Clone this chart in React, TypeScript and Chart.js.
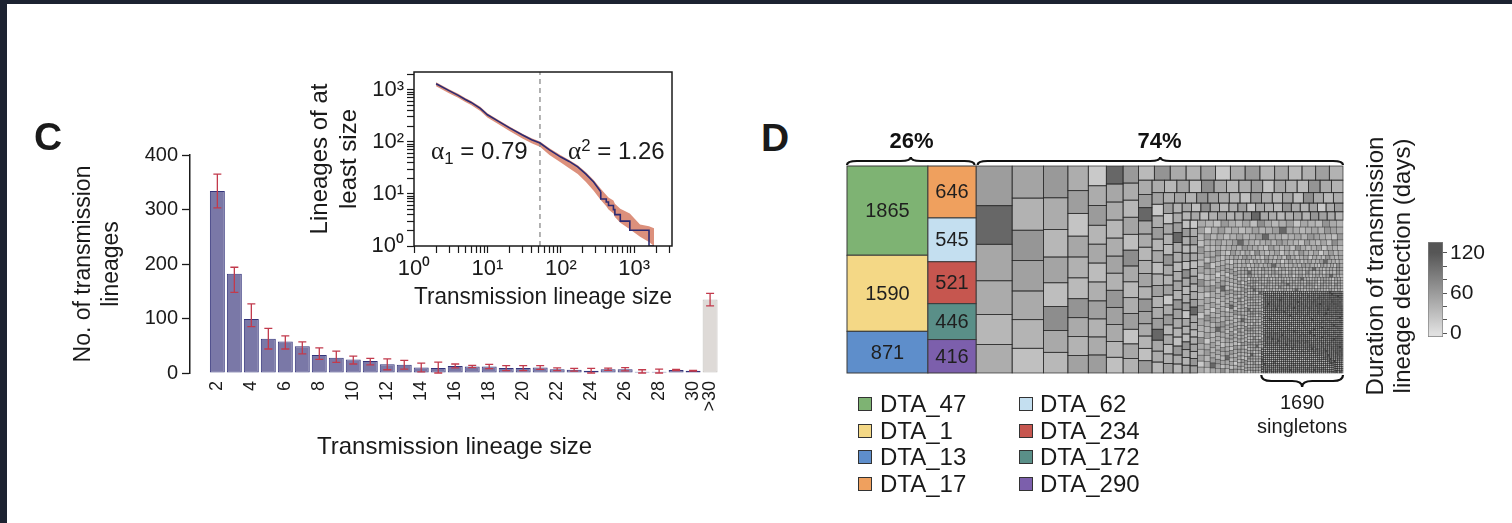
import React, { useEffect, useRef } from "react";
import { Chart, registerables } from "chart.js";

Chart.register(...registerables);

const FONT = "'Liberation Sans', Arial, Helvetica, sans-serif";
const INK = "#1a1a1a";
Chart.defaults.font.family = FONT;
Chart.defaults.color = INK;

// ---------------- Panel C : distribution of lineage sizes ----------------
const barSizes = [2, 3, 4, 5, 6, 7, 8, 9, 10, 11, 12, 13, 14, 15, 16, 17, 18, 19, 20, 21, 22, 23, 24, 25, 26, 27, 28, 29, 30];
const barMeans = [334, 182, 99, 63, 58, 49, 33, 28, 25, 22, 16, 15, 10, 9, 13, 12, 12, 9, 9, 10, 7, 6, 4, 7, 7, 2.5, 2.5, 5.5, 4.3];
const barLow = [303, 148, 85, 44, 44, 35, 25, 19.5, 16.5, 15, 6, 7, 2, 0, 9.5, 10, 8, 4.5, 4.5, 6.5, 4.5, 3.4, 0, 5, 4, 0, 0, 4.5, 3.6];
const barHigh = [365, 194, 127, 82, 68, 57, 46, 40, 31, 27, 26, 23, 18, 20, 16.5, 14, 16, 13.5, 13.5, 13.5, 9.5, 8.6, 8.6, 9, 10, 6, 7, 6.5, 5];
const overLabel = ">30";
const overPosition = 31;
const overMean = 135;
const overLow = 123;
const overHigh = 146;
const barTickSizes = [2, 4, 6, 8, 10, 12, 14, 16, 18, 20, 22, 24, 26, 28, 30];
const barYTicks = [0, 100, 200, 300, 400];

// ---------------- Inset : complementary cumulative distribution ----------------
const ccdfSizes = [2, 3, 4, 5, 6, 8, 10, 14, 20, 30, 40, 52, 70, 100, 130, 170, 220, 280, 350];
const ccdfCounts = [1300, 960, 780, 650, 570, 440, 330, 250, 185, 135, 110, 95, 70, 51, 42, 33, 24, 17, 11];
const tailSizes = [350, 416, 446, 521, 545, 646, 871, 1590, 1865];
const tailCounts = [11, 8, 7, 6, 5, 4, 3, 2, 1];
const bandSizes = [2, 3, 4, 5, 6, 8, 10, 14, 20, 30, 40, 52, 70, 100, 130, 170, 220, 280, 350, 416, 446, 521, 545, 646, 871, 1200, 1590, 1865];
const bandHigh = [1390, 1025, 835, 695, 610, 470, 352, 266, 197, 143, 117, 101, 75, 55, 45, 35.5, 26, 18.5, 12.5, 9.5, 8.5, 7.5, 6.5, 5.2, 4.2, 2.6, 2.4, 2.2];
const bandLow = [1170, 860, 700, 580, 510, 392, 292, 220, 162, 116, 94, 80, 56, 40, 31, 24, 17, 11.5, 7.6, 5.8, 5, 4.2, 3.6, 2.8, 2.1, 1.5, 1.2, 1];
const breakpointSize = 52;
const insetXTicks = [1, 2, 3, 4, 5, 6, 7, 8, 9, 10, 20, 30, 40, 50, 60, 70, 80, 90, 100, 200, 300, 400, 500, 600, 700, 800, 900, 1000, 2000, 3000];
const insetYTicks = [1, 2, 3, 4, 5, 6, 7, 8, 9, 10, 20, 30, 40, 50, 60, 70, 80, 90, 100, 200, 300, 400, 500, 600, 700, 800, 900, 1000, 2000];
const insetXMin = 1;
const insetXMax = 3270;
const insetYMin = 1;
const insetYMax = 2190;
const superDigits = ["\u2070", "\u00b9", "\u00b2", "\u00b3"];

// ---------------- Panel D : treemap of lineages ----------------
const topNames = ["DTA_47", "DTA_1", "DTA_13", "DTA_17", "DTA_62", "DTA_234", "DTA_172", "DTA_290"];
const topSizes = [1865, 1590, 871, 646, 545, 521, 446, 416];
const topColors = ["#7eb373", "#f4d886", "#5e8ecb", "#efa05e", "#c4dff0", "#c6564f", "#5a8f88", "#7c5fac"];
const topFirstColumn = 3;
const largeGraySizes = [370, 360, 340, 315, 280, 265, 260, 246, 232, 200, 173, 162, 150, 138, 130, 120, 110, 100, 92, 88, 84, 78, 74, 68, 63, 58, 54, 50, 46, 43, 40, 37, 34, 32];
const largeGrayCounts = [1, 1, 1, 1, 1, 1, 2, 2, 2, 3, 1, 1, 2, 1, 2, 2, 3, 3, 4, 4, 4, 5, 5, 6, 6, 6, 6, 6, 7, 7, 8, 8, 8, 8];
const singletonCount = 1690;
const durationPattern = [58, 105, 50, 46, 36, 44, 52, 40, 64, 55, 47, 38, 28, 62, 45, 36, 52, 30, 72, 48, 35, 44, 57, 24, 50, 41, 33, 66, 47, 39, 54, 20, 45, 60, 37, 49, 31, 43, 56, 40, 46];
const colorbarRange = [-5.5, 136];
const colorbarTicks = [0, 20, 40, 60, 80, 100, 120];
const colorbarLabelled = [0, 60, 120];
const GRAY_LIGHT = 224;
const GRAY_DARK = 86;

const BAR_FILL = "#7a78a7";
const BAR_EDGE = "#34347b";
const OVER_FILL = "#dedad7";
const OVER_EDGE = "#c2beba";
const ERR = "#c23a4c";
const BAND = "rgba(216,132,110,0.9)";
const LINE = "#2b2a72";

const sum = (a: number[]) => a.reduce((s, v) => s + v, 0);

function buildGrayValues(): number[] {
  const vals: number[] = [];
  largeGraySizes.forEach((s, i) => {
    for (let k = 0; k < largeGrayCounts[i]; k++) vals.push(s);
  });
  for (let i = barSizes.length - 1; i >= 0; i--) {
    const n = Math.round(barMeans[i]);
    for (let k = 0; k < n; k++) vals.push(barSizes[i]);
  }
  for (let k = 0; k < singletonCount; k++) vals.push(1);
  return vals;
}
const grayValues = buildGrayValues();

type Cell = { x: number; y: number; w: number; h: number; v: number; idx: number };

function worst(maxA: number, minA: number, s: number, side: number) {
  const s2 = s * s;
  const w2 = side * side;
  return Math.max((w2 * maxA) / s2, s2 / (w2 * minA));
}

function squarify(values: number[], x0: number, y0: number, w0: number, h0: number): Cell[] {
  const total = sum(values);
  const k = (w0 * h0) / total;
  const areas = values.map((v) => v * k);
  const out: Cell[] = [];
  let x = x0, y = y0, w = w0, h = h0;
  let i = 0;
  while (i < areas.length) {
    const side = Math.min(w, h);
    let s = areas[i];
    let best = worst(areas[i], areas[i], s, side);
    let j = i + 1;
    while (j < areas.length) {
      const ns = s + areas[j];
      const nw = worst(areas[i], areas[j], ns, side);
      if (nw > best) break;
      best = nw;
      s = ns;
      j++;
    }
    if (w >= h) {
      const cw = s / h;
      let cy = y;
      for (let m = i; m < j; m++) {
        const ch = areas[m] / cw;
        out.push({ x, y: cy, w: cw, h: ch, v: values[m], idx: m });
        cy += ch;
      }
      x += cw;
      w -= cw;
    } else {
      const rh = s / w;
      let cx = x;
      for (let m = i; m < j; m++) {
        const cw = areas[m] / rh;
        out.push({ x: cx, y, w: cw, h: rh, v: values[m], idx: m });
        cx += cw;
      }
      y += rh;
      h -= rh;
    }
    i = j;
  }
  return out;
}

function durationColor(d: number) {
  const lo = colorbarLabelled[0];
  const hi = colorbarLabelled[colorbarLabelled.length - 1];
  const t = Math.max(0, Math.min(1, (d - lo) / (hi - lo)));
  const v = Math.round(GRAY_LIGHT + (GRAY_DARK - GRAY_LIGHT) * t);
  return `rgb(${v},${v},${v})`;
}

function drawBrace(ctx: CanvasRenderingContext2D, x1: number, x2: number, y0: number, dir: number, depth: number) {
  const xm = (x1 + x2) / 2;
  const y1 = y0 + dir * depth;
  const y2 = y0 + dir * depth * 2;
  const r = Math.min(10, (x2 - x1) / 4);
  ctx.beginPath();
  ctx.moveTo(x1, y0);
  ctx.quadraticCurveTo(x1, y1, x1 + r, y1);
  ctx.lineTo(xm - r, y1);
  ctx.quadraticCurveTo(xm, y1, xm, y2);
  ctx.quadraticCurveTo(xm, y1, xm + r, y1);
  ctx.lineTo(x2 - r, y1);
  ctx.quadraticCurveTo(x2, y1, x2, y0);
  ctx.stroke();
}

const errorBarPlugin = {
  id: "errorBars",
  afterDatasetsDraw(chart: any) {
    const { ctx, scales } = chart;
    const xs = [...barSizes, overPosition];
    const lows = [...barLow, overLow];
    const highs = [...barHigh, overHigh];
    ctx.save();
    ctx.strokeStyle = ERR;
    ctx.lineWidth = 1.3;
    xs.forEach((xv, i) => {
      const px = scales.x.getPixelForValue(xv);
      const lo = scales.y.getPixelForValue(lows[i]);
      const hi = scales.y.getPixelForValue(highs[i]);
      ctx.beginPath();
      ctx.moveTo(px, lo);
      ctx.lineTo(px, hi);
      ctx.moveTo(px - 4, lo);
      ctx.lineTo(px + 4, lo);
      ctx.moveTo(px - 4, hi);
      ctx.lineTo(px + 4, hi);
      ctx.stroke();
    });
    ctx.restore();
  },
};

const frameBoxPlugin = {
  id: "frameBox",
  afterDatasetsDraw(chart: any) {
    const { ctx, chartArea: a } = chart;
    ctx.save();
    ctx.strokeStyle = INK;
    ctx.lineWidth = 1.5;
    ctx.strokeRect(a.left, a.top, a.right - a.left, a.bottom - a.top);
    ctx.restore();
  },
};

const treemapPlugin = {
  id: "treemapCells",
  afterDraw(chart: any) {
    const { ctx, chartArea: a, scales } = chart;
    const W = (a.right - a.left) / (a.bottom - a.top);
    const H = 1;
    const coloredSum = sum(topSizes);
    const total = coloredSum + sum(grayValues);
    const coloredW = (W * coloredSum) / total;
    const px = (v: number) => scales.x.getPixelForValue(v / W);
    const py = (v: number) => scales.y.getPixelForValue(v / H);

    ctx.save();
    // grey lineages
    const gray = squarify(grayValues, coloredW, 0, W - coloredW, H);
    gray.forEach((c) => {
      ctx.fillStyle = durationColor(durationPattern[c.idx % durationPattern.length]);
      ctx.fillRect(px(c.x), py(c.y), px(c.x + c.w) - px(c.x), py(c.y + c.h) - py(c.y));
    });
    gray.forEach((c) => {
      const wpx = px(c.x + c.w) - px(c.x);
      const hpx = py(c.y + c.h) - py(c.y);
      const small = Math.min(wpx, hpx);
      if (c.v === 1) {
        ctx.strokeStyle = "rgba(35,35,35,0.75)";
        ctx.lineWidth = 0.55;
      } else if (small < 7) {
        ctx.strokeStyle = "rgba(40,40,40,0.55)";
        ctx.lineWidth = 0.5;
      } else {
        ctx.strokeStyle = "rgba(40,40,40,0.85)";
        ctx.lineWidth = 0.8;
      }
      ctx.strokeRect(px(c.x), py(c.y), wpx, hpx);
    });

    // coloured (largest) lineages
    const columns = [topSizes.slice(0, topFirstColumn), topSizes.slice(topFirstColumn)];
    let cx = 0;
    let offset = 0;
    columns.forEach((col) => {
      const colSum = sum(col);
      const cw = (coloredW * colSum) / coloredSum;
      let cy = 0;
      col.forEach((v, k) => {
        const ch = (H * v) / colSum;
        const x1 = px(cx), x2 = px(cx + cw), y1 = py(cy), y2 = py(cy + ch);
        ctx.fillStyle = topColors[offset + k];
        ctx.fillRect(x1, y1, x2 - x1, y2 - y1);
        ctx.strokeStyle = "#3a3a3a";
        ctx.lineWidth = 1;
        ctx.strokeRect(x1, y1, x2 - x1, y2 - y1);
        ctx.fillStyle = "#1f1f1f";
        ctx.font = `20px ${FONT}`;
        ctx.textAlign = "center";
        ctx.textBaseline = "middle";
        ctx.fillText(String(v), (x1 + x2) / 2, (y1 + y2) / 2 + 1);
        cy += ch;
      });
      offset += col.length;
      cx += cw;
    });

    // braces and their labels
    ctx.strokeStyle = "#111";
    ctx.lineWidth = 2.2;
    const xSplit = px(coloredW);
    drawBrace(ctx, a.left, xSplit - 1.5, a.top - 1, -1, 4);
    drawBrace(ctx, xSplit + 1.5, a.right, a.top - 1, -1, 4);
    const pct = Math.round((coloredSum / total) * 100);
    ctx.fillStyle = "#111";
    ctx.font = `bold 22px ${FONT}`;
    ctx.textAlign = "center";
    ctx.textBaseline = "middle";
    ctx.fillText(`${pct}%`, (a.left + xSplit) / 2, a.top - 24);
    ctx.fillText(`${100 - pct}%`, (xSplit + a.right) / 2, a.top - 24);

    const singles = gray.filter((c) => c.v === 1);
    const sx1 = Math.min(...singles.map((c) => px(c.x)));
    const sx2 = Math.max(...singles.map((c) => px(c.x + c.w)));
    drawBrace(ctx, sx1, sx2, a.bottom + 2, 1, 6);
    ctx.font = `20px ${FONT}`;
    ctx.fillStyle = INK;
    ctx.fillText(String(singletonCount), (sx1 + sx2) / 2, a.bottom + 30);
    ctx.fillText("singletons", (sx1 + sx2) / 2, a.bottom + 54);
    ctx.restore();
  },
};

function decadeLabel(v: number) {
  const e = Math.log10(v);
  const r = Math.round(e);
  return Math.abs(e - r) < 1e-9 ? "10" + superDigits[r] : "";
}

export default function App() {
  const mainRef = useRef<HTMLCanvasElement>(null);
  const insetRef = useRef<HTMLCanvasElement>(null);
  const treeRef = useRef<HTMLCanvasElement>(null);
  const cbRef = useRef<HTMLCanvasElement>(null);

  useEffect(() => {
    const charts: Chart[] = [];

    charts.push(
      new Chart(mainRef.current as HTMLCanvasElement, {
        type: "bar",
        data: {
          datasets: [
            {
              data: [...barSizes.map((s, i) => ({ x: s, y: barMeans[i] })), { x: overPosition, y: overMean }] as any,
              backgroundColor: [...barSizes.map(() => BAR_FILL), OVER_FILL],
              borderColor: [...barSizes.map(() => BAR_EDGE), OVER_EDGE],
              borderWidth: 1,
              borderSkipped: false,
              barPercentage: 0.88,
              categoryPercentage: 1,
            },
          ],
        },
        options: {
          responsive: false,
          animation: false,
          layout: { padding: { left: 70, right: 18, top: 155, bottom: 61 } },
          plugins: { legend: { display: false }, tooltip: { enabled: false } },
          scales: {
            x: {
              type: "linear",
              min: 0.39,
              max: 31.53,
              offset: false,
              afterBuildTicks: (s: any) => {
                s.ticks = [...barTickSizes, overPosition].map((v) => ({ value: v }));
              },
              afterFit: (s: any) => {
                s.height = 89;
              },
              grid: { display: false, drawTicks: false },
              border: { display: false },
              ticks: {
                autoSkip: false,
                minRotation: 90,
                maxRotation: 90,
                padding: 8,
                color: INK,
                font: { size: 18 },
                callback: (v: any) => (v === overPosition ? overLabel : String(v)),
              },
              title: { display: true, text: "Transmission lineage size", font: { size: 24 }, color: INK, padding: 0 },
            },
            y: {
              min: 0,
              max: 400,
              afterBuildTicks: (s: any) => {
                s.ticks = barYTicks.map((v) => ({ value: v }));
              },
              afterFit: (s: any) => {
                s.width = 120;
              },
              grid: { drawOnChartArea: false, drawTicks: true, tickLength: 8, tickColor: INK, tickWidth: 1.3 },
              border: { display: true, color: INK, width: 1.5 },
              ticks: { padding: 4, color: INK, font: { size: 20 } },
              title: { display: true, text: ["No. of transmission", "lineages"], font: { size: 23 }, color: INK, padding: 0 },
            },
          },
        } as any,
        plugins: [errorBarPlugin],
      })
    );

    charts.push(
      new Chart(insetRef.current as HTMLCanvasElement, {
        type: "line",
        data: {
          datasets: [
            {
              data: ccdfSizes.map((s, i) => ({ x: s, y: ccdfCounts[i] })),
              borderColor: LINE,
              borderWidth: 1.6,
              pointRadius: 0,
              fill: false,
            },
            {
              data: tailSizes.map((s, i) => ({ x: s, y: tailCounts[i] })),
              borderColor: LINE,
              borderWidth: 1.6,
              pointRadius: 0,
              fill: false,
              stepped: "after",
            },
            {
              data: [
                { x: breakpointSize, y: insetYMin },
                { x: breakpointSize, y: insetYMax },
              ],
              borderColor: "#8a8a8a",
              borderWidth: 1.3,
              borderDash: [5, 4],
              pointRadius: 0,
              fill: false,
            },
            {
              data: bandSizes.map((s, i) => ({ x: s, y: bandHigh[i] })),
              borderWidth: 0,
              pointRadius: 0,
              fill: "+1",
              backgroundColor: BAND,
              borderColor: "rgba(0,0,0,0)",
            },
            {
              data: bandSizes.map((s, i) => ({ x: s, y: bandLow[i] })),
              borderWidth: 0,
              pointRadius: 0,
              fill: false,
              borderColor: "rgba(0,0,0,0)",
            },
          ],
        } as any,
        options: {
          responsive: false,
          animation: false,
          layout: { padding: { left: 16, right: 38, top: 22, bottom: 8 } },
          plugins: { legend: { display: false }, tooltip: { enabled: false } },
          scales: {
            x: {
              type: "logarithmic",
              min: insetXMin,
              max: insetXMax,
              afterBuildTicks: (s: any) => {
                s.ticks = insetXTicks.map((v) => ({ value: v }));
              },
              afterFit: (s: any) => {
                s.height = 66;
              },
              grid: { drawOnChartArea: false, tickLength: 7, tickColor: INK, tickWidth: 1.2 },
              border: { display: false },
              ticks: {
                autoSkip: false,
                minRotation: 0,
                maxRotation: 0,
                padding: 3,
                color: INK,
                font: { size: 22 },
                callback: (v: any) => decadeLabel(Number(v)),
              },
              title: { display: true, text: "Transmission lineage size", font: { size: 24 }, color: INK, padding: 0 },
            },
            y: {
              type: "logarithmic",
              min: insetYMin,
              max: insetYMax,
              afterBuildTicks: (s: any) => {
                s.ticks = insetYTicks.map((v) => ({ value: v }));
              },
              afterFit: (s: any) => {
                s.width = 108;
              },
              grid: { drawOnChartArea: false, tickLength: 7, tickColor: INK, tickWidth: 1.2 },
              border: { display: false },
              ticks: {
                autoSkip: false,
                padding: 3,
                color: INK,
                font: { size: 22 },
                callback: (v: any) => decadeLabel(Number(v)),
              },
              title: { display: true, text: ["Lineages of at", "least size"], font: { size: 24 }, color: INK, padding: 0 },
            },
          },
        } as any,
        plugins: [frameBoxPlugin],
      })
    );

    charts.push(
      new Chart(treeRef.current as HTMLCanvasElement, {
        type: "scatter",
        data: { datasets: [] },
        options: {
          responsive: false,
          animation: false,
          layout: { padding: { left: 47, right: 57, top: 66, bottom: 150 } },
          plugins: { legend: { display: false }, tooltip: { enabled: false } },
          scales: {
            x: { type: "linear", min: 0, max: 1, display: false },
            y: { type: "linear", min: 0, max: 1, reverse: true, display: false },
          },
        } as any,
        plugins: [treemapPlugin],
      })
    );

    charts.push(
      new Chart(cbRef.current as HTMLCanvasElement, {
        type: "bar",
        data: {
          labels: [""],
          datasets: [
            {
              data: [[colorbarRange[0], colorbarRange[1]]] as any,
              backgroundColor: (c: any) => {
                const ch = c.chart;
                if (!ch.chartArea) return durationColor(60);
                const ys = ch.scales.y;
                const g = ch.ctx.createLinearGradient(
                  0,
                  ys.getPixelForValue(colorbarLabelled[0]),
                  0,
                  ys.getPixelForValue(colorbarLabelled[colorbarLabelled.length - 1])
                );
                g.addColorStop(0, durationColor(colorbarLabelled[0]));
                g.addColorStop(1, durationColor(colorbarLabelled[colorbarLabelled.length - 1]));
                return g;
              },
              borderColor: "#808080",
              borderWidth: 1,
              borderSkipped: false,
              barPercentage: 1,
              categoryPercentage: 1,
            },
          ],
        },
        options: {
          responsive: false,
          animation: false,
          layout: { padding: { left: 18, right: 0, top: 17, bottom: 18 } },
          plugins: { legend: { display: false }, tooltip: { enabled: false } },
          scales: {
            x: { display: false },
            y: {
              position: "right",
              min: colorbarRange[0],
              max: colorbarRange[1],
              afterBuildTicks: (s: any) => {
                s.ticks = colorbarTicks.map((v) => ({ value: v }));
              },
              afterFit: (s: any) => {
                s.width = 67;
              },
              grid: { drawOnChartArea: false, tickLength: 4, tickColor: "#555", tickWidth: 1 },
              border: { display: false },
              ticks: {
                autoSkip: false,
                padding: 3,
                color: INK,
                font: { size: 21 },
                callback: (v: any) => (colorbarLabelled.includes(Number(v)) ? String(v) : ""),
              },
            },
          },
        } as any,
      })
    );

    return () => charts.forEach((c) => c.destroy());
  }, []);

  const legendRows = [404, 430.7, 457.3, 484];
  const legendCols = [858, 1019];

  return (
    <div
      style={{
        position: "absolute",
        left: 0,
        top: 0,
        width: 1512,
        height: 523,
        background: "#ffffff",
        overflow: "hidden",
        fontFamily: FONT,
        color: INK,
      }}
    >
      <div style={{ position: "absolute", left: 0, top: 0, width: 1512, height: 4, background: "#1c2231" }} />
      <div style={{ position: "absolute", left: 0, top: 0, width: 7, height: 523, background: "#1c2231" }} />
      <canvas ref={mainRef} width={740} height={523} style={{ position: "absolute", left: 0, top: 0 }} />
      <canvas ref={insetRef} width={420} height={270} style={{ position: "absolute", left: 290, top: 50 }} />
      <canvas ref={treeRef} width={600} height={423} style={{ position: "absolute", left: 800, top: 100 }} />
      <canvas ref={cbRef} width={100} height={130} style={{ position: "absolute", left: 1410, top: 225 }} />

      <div style={{ position: "absolute", left: 34, top: 117, fontSize: 39, lineHeight: "39px", fontWeight: 700 }}>C</div>
      <div style={{ position: "absolute", left: 761, top: 118, fontSize: 39, lineHeight: "39px", fontWeight: 700 }}>D</div>

      <div style={{ position: "absolute", left: 431, top: 139, fontSize: 24, lineHeight: "24px", whiteSpace: "nowrap" }}>
        <span style={{ fontFamily: "'Liberation Serif', 'DejaVu Serif', serif", fontSize: "1.05em" }}>α</span>
        <span style={{ fontSize: "0.7em", position: "relative", top: "0.3em" }}>1</span> = 0.79
      </div>
      <div style={{ position: "absolute", left: 568, top: 139, fontSize: 24, lineHeight: "24px", whiteSpace: "nowrap" }}>
        <span style={{ fontFamily: "'Liberation Serif', 'DejaVu Serif', serif", fontSize: "1.05em" }}>α</span>
        <span style={{ fontSize: "0.7em", position: "relative", top: "-0.45em" }}>2</span> = 1.26
      </div>

      {topNames.map((name, i) => {
        const col = i < 4 ? 0 : 1;
        const row = i % 4;
        return (
          <div
            key={name}
            style={{
              position: "absolute",
              left: legendCols[col],
              top: legendRows[row] - 14,
              height: 28,
              display: "flex",
              alignItems: "center",
              fontSize: 24,
              whiteSpace: "nowrap",
            }}
          >
            <span
              style={{
                display: "inline-block",
                width: 12,
                height: 12,
                border: "1px solid #333",
                background: topColors[i],
                marginRight: col === 0 ? 8 : 7,
              }}
            />
            {name}
          </div>
        );
      })}

      <div
        style={{
          position: "absolute",
          left: 1388 - 160,
          top: 266 - 27,
          width: 320,
          height: 54,
          transform: "rotate(-90deg)",
          transformOrigin: "50% 50%",
          textAlign: "center",
          fontSize: 24,
          lineHeight: "27px",
          whiteSpace: "nowrap",
        }}
      >
        <div>Duration of transmission</div>
        <div>lineage detection (days)</div>
      </div>
    </div>
  );
}
